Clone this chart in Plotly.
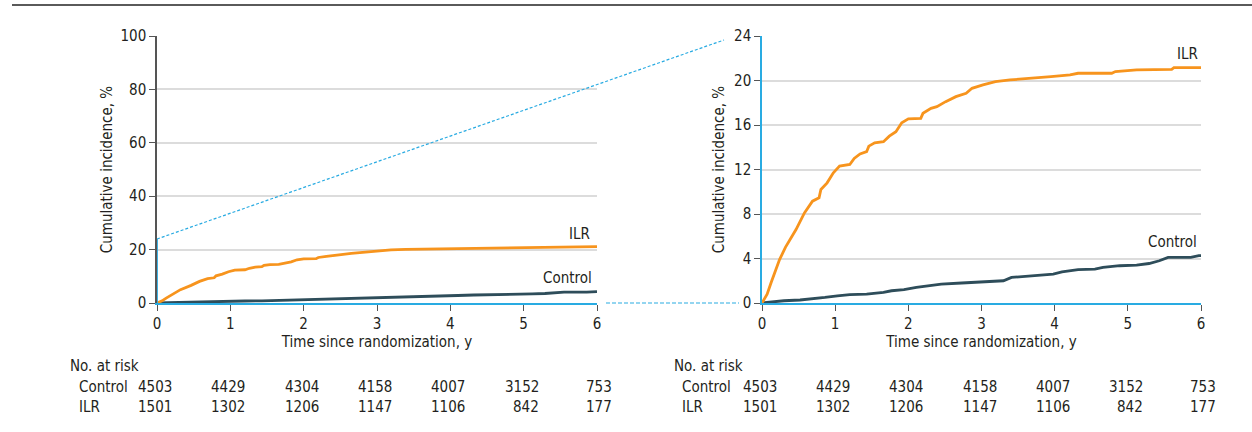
import plotly.graph_objects as go

# ---- data ----
ilr_t = [0, 0.07, 0.125, 0.24, 0.32, 0.465, 0.58, 0.69, 0.78, 0.805, 0.89, 0.975, 1.06, 1.2, 1.26, 1.34,
         1.43, 1.46, 1.54, 1.66, 1.74, 1.83, 1.91, 2.0, 2.17, 2.2, 2.31, 2.39, 2.51, 2.65, 2.79, 2.87,
         3.02, 3.19, 3.39, 3.75, 3.95, 4.21, 4.32, 4.78, 4.83, 5.12, 5.6, 5.63, 6.0]
ilr_v = [0, 0.8, 1.85, 3.9, 5.0, 6.6, 8.1, 9.15, 9.45, 10.2, 10.8, 11.7, 12.3, 12.45, 13.0, 13.4,
         13.6, 14.1, 14.4, 14.5, 15.0, 15.4, 16.2, 16.55, 16.6, 17.05, 17.5, 17.65, 18.1, 18.55, 18.85, 19.3,
         19.6, 19.9, 20.05, 20.2, 20.35, 20.5, 20.65, 20.65, 20.8, 20.95, 21.0, 21.15, 21.15]
ctl_t = [0, 0.125, 0.3, 0.52, 0.69, 0.86, 1.03, 1.2, 1.43, 1.66, 1.77, 1.94, 2.11, 2.28, 2.45, 2.73,
         3.02, 3.3, 3.41, 3.7, 3.98, 4.1, 4.32, 4.55, 4.66, 4.89, 5.12, 5.29, 5.43, 5.55, 5.86, 5.97, 6.0]
ctl_v = [0, 0.1, 0.2, 0.27, 0.36, 0.5, 0.65, 0.75, 0.8, 0.95, 1.1, 1.2, 1.4, 1.55, 1.7, 1.8,
         1.9, 2.0, 2.3, 2.45, 2.6, 2.8, 3.0, 3.05, 3.2, 3.35, 3.4, 3.55, 3.8, 4.1, 4.1, 4.25, 4.25]

risk_times = [0, 1, 2, 3, 4, 5, 6]
risk_control = [4503, 4429, 4304, 4158, 4007, 3152, 753]
risk_ilr = [1501, 1302, 1206, 1147, 1106, 842, 177]
group_names = ["Control", "ILR"]

ORANGE = "#F7941D"
TEAL = "#2E4D5A"
BLUE = "#29ABE2"
GRID = "#DCDCDC"
TXT = "#231F20"
FONT = "Liberation Sans Narrow, DejaVu Sans Condensed, sans-serif"

W, H = 1252, 432
def px(x):
    return x / W
def py(y):
    return (H - y) / H

L_dom = [px(157), px(597)]
R_dom = [px(762), px(1201)]
Y_dom = [py(303), py(36)]

fig = go.Figure()
for xa, ya in [("x", "y"), ("x2", "y2")]:
    fig.add_trace(go.Scatter(x=ctl_t, y=ctl_v, mode="lines", line=dict(color=TEAL, width=2.8),
                             xaxis=xa, yaxis=ya, showlegend=False, hoverinfo="skip"))
    fig.add_trace(go.Scatter(x=ilr_t, y=ilr_v, mode="lines", line=dict(color=ORANGE, width=2.8),
                             xaxis=xa, yaxis=ya, showlegend=False, hoverinfo="skip"))

axfont = dict(family=FONT, size=15, color=TXT)
common_x = dict(range=[0, 6], tickvals=risk_times, ticks="outside", ticklen=6, tickcolor="#555",
                showgrid=False, zeroline=False, showline=True, linecolor=BLUE, linewidth=1.5, automargin=False,
                tickfont=axfont, title=dict(text="Time since randomization, y", font=axfont, standoff=2))
fig.update_layout(
    width=W, height=H, autosize=False, margin=dict(l=0, r=0, t=0, b=0, pad=0),
    plot_bgcolor="white", paper_bgcolor="white",
    xaxis=dict(domain=L_dom, anchor="y", **common_x),
    xaxis2=dict(domain=R_dom, anchor="y2", **common_x),
    yaxis=dict(domain=Y_dom, anchor="x", range=[0, 100], tickvals=[0, 20, 40, 60, 80, 100], automargin=False,
               ticks="outside", ticklen=6, tickcolor="#555", showgrid=True, gridcolor=GRID, gridwidth=1.5,
               zeroline=False, showline=True, linecolor="#555", linewidth=1.5, tickfont=axfont,
               title=dict(text="Cumulative incidence, %", font=axfont, standoff=4)),
    yaxis2=dict(domain=Y_dom, anchor="x2", range=[0, 24], tickvals=[0, 4, 8, 12, 16, 20, 24], automargin=False,
                ticks="outside", ticklen=6, tickcolor="#555", showgrid=True, gridcolor=GRID, gridwidth=1.5,
                zeroline=False, showline=True, linecolor=BLUE, linewidth=1.5, tickfont=axfont,
                title=dict(text="Cumulative incidence, %", font=axfont, standoff=6)),
)

shapes = []
# top rule
shapes.append(dict(type="line", xref="paper", yref="paper", x0=px(12), x1=1, y0=py(5), y1=py(5),
                   line=dict(color="#5A5A5A", width=2)))
# blue highlight of zoomed region on left axis
shapes.append(dict(type="line", xref="x", yref="y", x0=0, x1=0, y0=0, y1=24,
                   line=dict(color=BLUE, width=1.8)))
# dashed connector lines
shapes.append(dict(type="line", xref="paper", yref="paper", x0=px(157), y0=py(239), x1=px(724), y1=py(40),
                   line=dict(color=BLUE, width=1.2, dash="3px,2px")))
shapes.append(dict(type="line", xref="paper", yref="paper", x0=px(606), y0=py(303), x1=px(739), y1=py(303),
                   line=dict(color=BLUE, width=1.2, dash="4px,2px")))
fig.update_layout(shapes=shapes)

ann = []
tfont = dict(family=FONT, size=15, color=TXT)
# curve labels
ann.append(dict(xref="x", yref="y", x=6, y=21, text="ILR", showarrow=False, xanchor="right", yanchor="bottom",
                xshift=-5, yshift=2, font=tfont))
ann.append(dict(xref="x", yref="y", x=6, y=4.3, text="Control", showarrow=False, xanchor="right", yanchor="bottom",
                xshift=-3, yshift=3, font=tfont))
ann.append(dict(xref="x2", yref="y2", x=6, y=21.2, text="ILR", showarrow=False, xanchor="right", yanchor="bottom",
                xshift=-1, yshift=2, font=tfont))
ann.append(dict(xref="x2", yref="y2", x=6, y=4.3, text="Control", showarrow=False, xanchor="right", yanchor="bottom",
                xshift=-2, yshift=2, font=tfont))

# number at risk tables
for xa, lab_x, row_x in [("x", 68, 77), ("x2", 672, 680)]:
    ann.append(dict(xref="paper", yref="paper", x=px(lab_x), y=py(366), text="No. at risk", showarrow=False,
                    xanchor="left", yanchor="middle", font=tfont))
    for gi, (gname, vals, yy) in enumerate([(group_names[0], risk_control, 387), (group_names[1], risk_ilr, 407)]):
        ann.append(dict(xref="paper", yref="paper", x=px(row_x), y=py(yy), text=gname, showarrow=False,
                        xanchor="left", yanchor="middle", font=tfont))
        for t, v in zip(risk_times, vals):
            ann.append(dict(xref=xa, yref="paper", x=t, y=py(yy), text=str(v), showarrow=False,
                            xanchor="right", yanchor="middle", xshift=17, font=tfont))
fig.update_layout(annotations=ann)

fig.write_html("out.html", config={"displayModeBar": False, "responsive": False},
               post_script="document.body.style.margin='0';document.body.style.overflow='hidden';")
